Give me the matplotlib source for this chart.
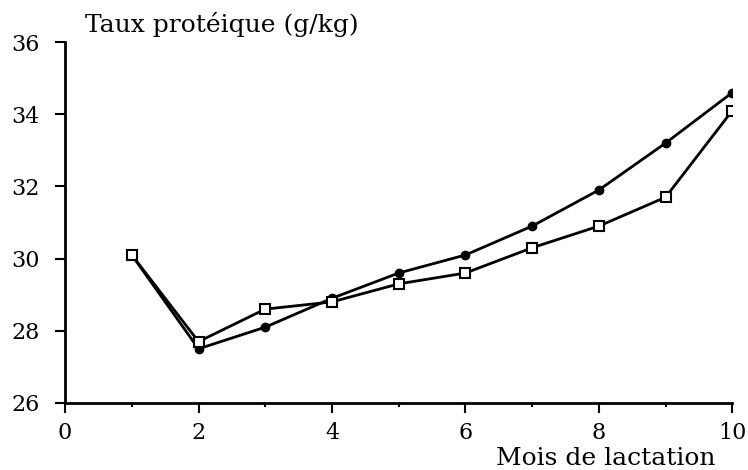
import matplotlib.pyplot as plt
import numpy as np

mois = [1, 2, 3, 4, 5, 6, 7, 8, 9, 10]
taux_ronds = [30.1, 27.5, 28.1, 28.9, 29.6, 30.1, 30.9, 31.9, 33.2, 34.6]
taux_carres = [30.1, 27.7, 28.6, 28.8, 29.3, 29.6, 30.3, 30.9, 31.7, 34.1]

x_ticks = [0, 2, 4, 6, 8, 10]
y_ticks = [26, 28, 30, 32, 34, 36]

plt.rcParams['font.family'] = ['DejaVu Serif']

fig = plt.figure(figsize=(7.48, 4.70), dpi=100)
ax = fig.add_axes([0.087, 0.1426, 0.892, 0.768])

ax.plot(mois, taux_ronds, color='black', linewidth=2, marker='o', markersize=6,
        markerfacecolor='black', markeredgecolor='black', zorder=3)
ax.plot(mois, taux_carres, color='black', linewidth=2, marker='s', markersize=7,
        markerfacecolor='white', markeredgecolor='black', markeredgewidth=1.5, zorder=4)

ax.set_xlim(0, 10)
ax.set_ylim(26, 36)
ax.set_xticks(x_ticks)
ax.set_yticks(y_ticks)
ax.set_xticks(np.arange(1, 10, 2), minor=True)
ax.tick_params(axis='both', which='major', direction='out', length=7, width=1.5, labelsize=16)
ax.tick_params(axis='x', which='minor', direction='out', length=3, width=1.5)
ax.tick_params(axis='x', which='major', pad=7)
ax.tick_params(axis='y', which='major', pad=11)

ax.spines['top'].set_visible(False)
ax.spines['right'].set_visible(False)
ax.spines['left'].set_linewidth(2)
ax.spines['bottom'].set_linewidth(2)

fig.text(0.114, 0.947, 'Taux protéique (g/kg)', fontsize=18, ha='left', va='center')
fig.text(0.956, 0.025, 'Mois de lactation', fontsize=18, ha='right', va='center')

plt.savefig('out.png', dpi=100)
